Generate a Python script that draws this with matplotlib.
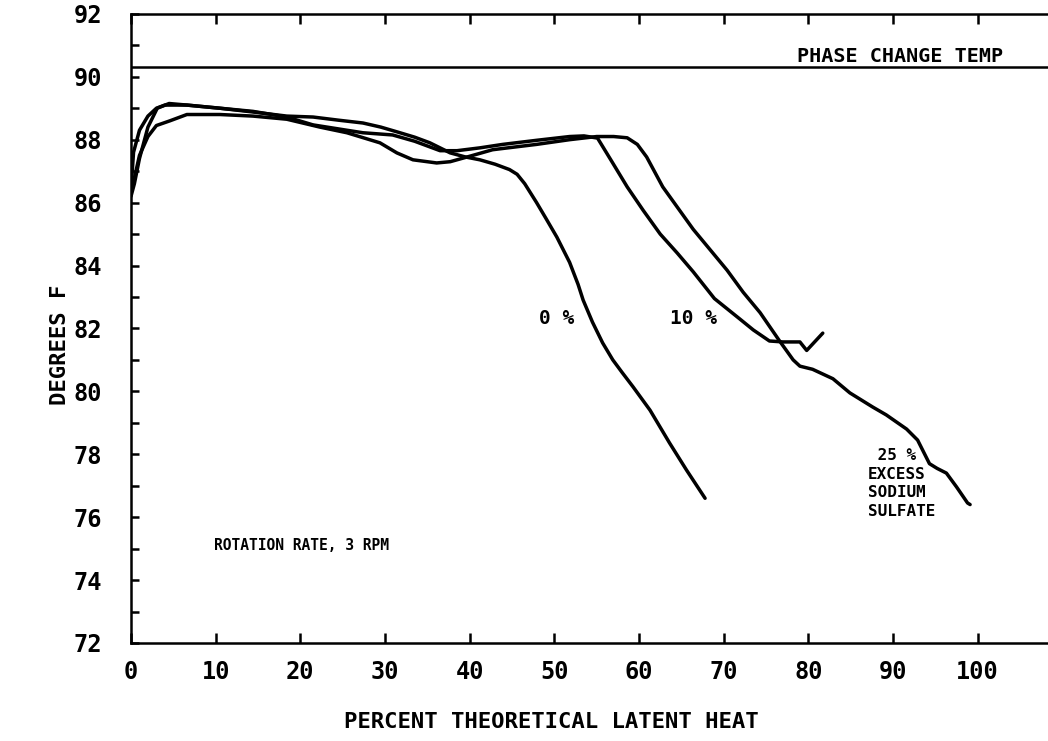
import matplotlib.pyplot as plt
import numpy as np

x_0pct = [0, 0.4, 1.0, 2.0, 3.1, 4.5, 6.6, 10.5, 14.4, 18.4, 21.5, 24.5, 27.4, 29.5,
          31.4, 33.5, 35.3, 37.7, 39.5, 41.2, 43.0, 44.7, 45.6, 46.5, 47.9, 49.0, 50.3,
          51.8, 52.8, 53.4, 54.5, 55.7, 56.9, 58.0, 59.3, 61.3, 63.6, 65.6, 67.8]
y_0pct = [86.2, 86.6, 87.4, 88.4, 89.0, 89.15, 89.1, 89.0, 88.88, 88.75, 88.72, 88.62,
          88.53, 88.4, 88.25, 88.08, 87.9, 87.58, 87.45, 87.36, 87.22, 87.05, 86.9, 86.6,
          86.0, 85.5, 84.9, 84.1, 83.4, 82.9, 82.2, 81.54, 81.0, 80.6, 80.14, 79.4, 78.36,
          77.5, 76.6]

x_10pct = [0, 0.3, 1.0, 2.0, 3.0, 4.0, 6.6, 10.5, 14.4, 18.4, 21.5, 25.5, 27.4, 30.9,
           33.5, 36.5, 38.5, 41.2, 43.9, 47.9, 51.8, 53.5, 55.1, 56.8, 58.6, 60.5, 62.5,
           64.5, 66.4, 68.9, 71.9, 73.5, 75.4, 77.0, 79.0, 79.8, 81.7]
y_10pct = [86.4, 87.6, 88.3, 88.75, 89.0, 89.1, 89.1, 89.0, 88.9, 88.72, 88.47, 88.3,
           88.22, 88.15, 87.95, 87.65, 87.65, 87.74, 87.85, 87.98, 88.1, 88.12, 88.05,
           87.3, 86.5, 85.75, 85.0, 84.4, 83.8, 82.95, 82.3, 81.95, 81.6, 81.57, 81.57,
           81.3, 81.85]

x_25pct = [0, 0.5, 1.0, 2.0, 3.0, 4.6, 6.6, 10.5, 14.4, 18.4, 22.3, 25.5, 29.4, 31.4,
           33.3, 36.1, 37.7, 39.7, 42.7, 43.9, 47.9, 51.8, 55.0, 57.0, 58.6, 59.8, 60.9,
           61.8, 62.8, 66.4, 70.4, 72.3, 74.3, 76.6, 78.2, 79.0, 80.5, 82.9, 84.9, 87.6,
           89.2, 91.6, 92.9, 94.3, 95.2, 96.3, 97.5, 98.8, 99.1]
y_25pct = [86.3, 86.9, 87.5, 88.1, 88.45, 88.6, 88.8, 88.8, 88.75, 88.65, 88.4, 88.22,
           87.9, 87.58, 87.36, 87.26, 87.3, 87.45, 87.68, 87.72, 87.85, 88.0, 88.1, 88.1,
           88.06, 87.85, 87.45, 87.0, 86.5, 85.15, 83.85, 83.15, 82.5, 81.6, 81.0, 80.8,
           80.7, 80.4, 79.95, 79.5, 79.25, 78.8, 78.45, 77.7, 77.55, 77.4, 76.96, 76.45,
           76.4]

phase_change_temp = 90.3
x_ticks = np.arange(0, 101, 10)
y_ticks = np.arange(72, 93, 2)

fnt = 'DejaVu Sans Mono'

fig = plt.figure(figsize=(10.48, 7.41), dpi=100)
ax = fig.add_axes([0.125, 0.1323, 0.875, 0.849])

for xs, ys in [(x_0pct, y_0pct), (x_10pct, y_10pct), (x_25pct, y_25pct)]:
    ax.plot(xs, ys, color='k', linewidth=2.5, solid_joinstyle='round', solid_capstyle='round')

ax.axhline(phase_change_temp, color='k', linewidth=1.8)
ax.text(78.7, phase_change_temp + 0.05, 'PHASE CHANGE TEMP', family=fnt, fontweight='bold',
        fontsize=14.5, va='bottom', ha='left')

ax.text(50.3, 82.3, '0 %', family=fnt, fontweight='bold', fontsize=14, ha='center', va='center')
ax.text(66.4, 82.3, '10 %', family=fnt, fontweight='bold', fontsize=14, ha='center', va='center')
ax.text(87.0, 78.2, ' 25 %\nEXCESS\nSODIUM\nSULFATE', family=fnt, fontweight='bold',
        fontsize=11.5, ha='left', va='top', linespacing=1.3)
ax.text(9.8, 75.1, 'ROTATION RATE, 3 RPM', family=fnt, fontweight='bold', fontsize=10.5,
        ha='left', va='center')

ax.set_xlim(0, 108.3)
ax.set_ylim(72, 92)
ax.set_xticks(x_ticks)
ax.set_yticks(y_ticks)
ax.set_yticks(np.arange(72, 93, 1), minor=True)
ax.tick_params(axis='x', direction='in', top=True, length=7, width=1.8, pad=12, labelsize=17)
ax.tick_params(axis='y', which='both', direction='in', length=6, width=1.8, pad=21, labelsize=17)
for lab in ax.get_xticklabels() + ax.get_yticklabels():
    lab.set_family(fnt)
    lab.set_fontweight('bold')

ax.spines['right'].set_visible(False)
for s in ['left', 'top', 'bottom']:
    ax.spines[s].set_linewidth(1.8)

ax.set_xlabel('PERCENT THEORETICAL LATENT HEAT', family=fnt, fontweight='bold', fontsize=16)
ax.set_ylabel('DEGREES F', family=fnt, fontweight='bold', fontsize=16)
ax.xaxis.set_label_coords(0.458, -0.11)
ax.yaxis.set_label_coords(-0.066, 0.474)

fig.savefig('out.png', dpi=100)
